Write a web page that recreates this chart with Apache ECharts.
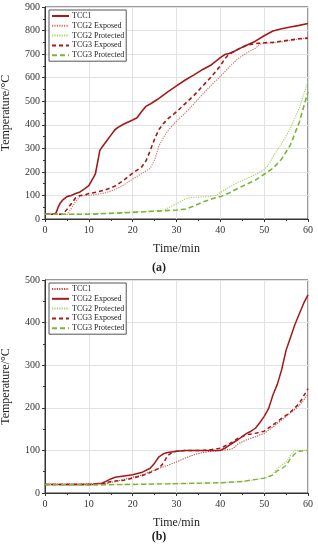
<!DOCTYPE html>
<html><head><meta charset="utf-8">
<script src="https://cdn.jsdelivr.net/npm/echarts@6/dist/echarts.min.js"></script>
<style>html,body{margin:0;padding:0;background:#fff}#c{width:318px;height:550px}</style>
</head><body><div id="c"></div>
<script>
// Chart (a) data: [time(min), temperature(°C)]
const aTCC1 = [[0,20],[2,20],[2.5,25],[3,50],[3.5,68],[4,80],[5,95],[6,100],[7,108],[8,115],[9,128],[10,142],[11,175],[11.5,192],[12,240],[12.5,290],[13,305],[14,330],[15,355],[16,380],[17,393],[18,403],[19,412],[20,420],[21,430],[22,455],[23,478],[24,488],[25,500],[26,512],[28,540],[30,565],[32,590],[34,612],[36,635],[38,655],[39,670],[40,685],[41,698],[42,703],[43,710],[44,720],[46,738],[48,755],[50,778],[52,798],[54,808],[56,815],[58,822],[60,830]];
const aTCG2Exp = [[0,20],[5.2,20],[6,45],[7,75],[8,95],[9,100],[10,100],[12,105],[14,112],[16,125],[18,145],[20,170],[22,192],[24,215],[25,250],[26,310],[27,345],[28,375],[30,415],[32,450],[34,490],[36,530],[38,570],[40,605],[42,645],[44,680],[46,705],[48,725],[49,742],[50,745],[52,748],[54,752],[56,758],[58,765],[60,768]];
const aTCG2Pro = [[0,20],[5,20],[10,22],[15,25],[20,30],[25,35],[27,38],[29,55],[31,75],[32,85],[33,90],[35,93],[37,95],[39,100],[40,112],[42,135],[44,155],[46,172],[48,188],[50,210],[51,230],[52,265],[54,320],[56,385],[58,470],[60,585]];
const aTCG3Exp = [[0,20],[4,20],[5,40],[6,65],[7,90],[8,100],[9,102],[10,108],[12,115],[14,125],[16,140],[18,165],[20,195],[22,220],[23,245],[24,290],[25,340],[26,380],[27,405],[28,425],[30,455],[32,490],[34,525],[36,565],[38,605],[40,650],[41,680],[42,700],[44,720],[46,738],[48,745],[50,748],[52,750],[54,755],[56,760],[58,765],[60,768]];
const aTCG3Pro = [[0,20],[10,20],[20,28],[25,33],[27,35],[30,38],[32,42],[34,55],[36,72],[38,85],[40,95],[42,110],[44,130],[46,148],[48,165],[50,190],[52,215],[54,255],[56,315],[58,410],[60,540]];
// Chart (b) data
const bTCC1 = [[0,20],[14,22],[16,27],[18,32],[20,37],[22,42],[24,50],[26,58],[28,65],[30,73],[32,82],[34,90],[36,95],[38,98],[40,100],[42,102],[43,105],[44,115],[46,125],[48,132],[50,140],[52,155],[54,172],[56,188],[58,205],[60,232]];
const bTCG2Exp = [[0,20],[11,20],[11.5,22],[13,23],[14,28],[15,33],[16,37],[18,40],[20,43],[22,48],[24,58],[25,70],[26,85],[27,92],[28,95],[30,98],[32,100],[34,100],[36,100],[38,100],[40,100],[41,105],[42,112],[44,125],[46,140],[47,145],[48,152],[49,165],[50,180],[51,198],[52,230],[53,255],[54,290],[55,335],[56,365],[57,395],[58,420],[59,445],[60,465]];
const bTCG2Pro = [[0,20],[10,20],[20,21],[30,22],[40,24],[45,27],[48,31],[50,35],[51,38],[52,45],[53,58],[54,65],[55,72],[56,88],[57,100],[58,100],[60,100]];
const bTCG3Exp = [[0,20],[13,20],[14,25],[16,28],[18,30],[20,35],[22,40],[24,48],[26,58],[27,70],[28,88],[29,95],[30,98],[32,100],[36,100],[38,102],[40,105],[42,115],[44,128],[46,137],[48,140],[50,145],[52,160],[54,175],[56,190],[58,210],[60,245]];
const bTCG3Pro = [[0,20],[10,19],[20,20],[30,22],[40,24],[45,27],[50,35],[52,42],[53,52],[54,57],[55,65],[56,80],[57,92],[58,98],[60,100]];
const names = ['TCC1','TCG2 Exposed','TCG2 Protected','TCG3 Exposed','TCG3 Protected'];
const xTicks = [0,10,20,30,40,50,60];

const DARK='#a31a1a', LIGHT='#d96a6a', GL='#a6d15a', GD='#7db33c';
const font='Liberation Serif';
function ser(name, data, idx, color, type, width){
  return {name, type:'line', data, xAxisIndex:idx, yAxisIndex:idx, symbol:'none', showSymbol:false,
    lineStyle:{color, type, width}, itemStyle:{color}, z:3};
}
function xAx(idx){
  return {type:'value', gridIndex:idx, min:0, max:60, interval:10, name:'Time/min', nameLocation:'middle', nameGap:24,
    nameTextStyle:{fontFamily:font,fontSize:12,color:'#222'},
    axisLine:{lineStyle:{color:'#333'}}, axisTick:{show:true,inside:false,length:3,lineStyle:{color:'#333'}},
    minorTick:{show:true,splitNumber:2,length:2,lineStyle:{color:'#333'}},
    axisLabel:{fontFamily:font,fontSize:10,color:'#333',margin:6,formatter:v=>xTicks.includes(v)?String(v):''},
    splitLine:{show:true,lineStyle:{color:'#e2e2e2',width:1}}};
}
function yAx(idx,max){
  return {type:'value', gridIndex:idx, min:0, max, interval:100, name:'Temperature/°C', nameLocation:'middle', nameGap:33,
    nameTextStyle:{fontFamily:font,fontSize:12,color:'#222'},
    axisLine:{show:true,lineStyle:{color:'#333'}}, axisTick:{show:true,length:3,lineStyle:{color:'#333'}},
    minorTick:{show:true,splitNumber:2,length:2,lineStyle:{color:'#333'}},
    axisLabel:{fontFamily:font,fontSize:10,color:'#333',margin:5},
    splitLine:{show:true,lineStyle:{color:'#e2e2e2',width:1}}};
}
function leg(idx, top){
  return {orient:'vertical', left:49, top, data: names.map(n=> idx? n+' ' : n), formatter:n=>n.trim(),
    itemWidth:17, itemHeight:7, itemGap:1.8, padding:[2,2,2,2], borderColor:'#555', borderWidth:1, backgroundColor:'#fff',
    itemStyle:{opacity:0},
    textStyle:{fontFamily:font,fontSize:8,color:'#222',padding:[0,0,0,-2]}, z:10};
}
const chart = echarts.init(document.getElementById('c'));
chart.setOption({
  animation:false,
  grid:[{left:45,top:7,width:263,height:212,containLabel:false,outerBoundsMode:'none',show:true,borderColor:'#333',borderWidth:1,backgroundColor:'#fff'},
        {left:45,top:280,width:263,height:213,containLabel:false,outerBoundsMode:'none',show:true,borderColor:'#333',borderWidth:1,backgroundColor:'#fff'}],
  xAxis:[xAx(0),xAx(1)],
  yAxis:[yAx(0,900),yAx(1,500)],
  legend:[leg(0,10),leg(1,283)],
  series:[
    ser('TCC1',aTCC1,0,DARK,'solid',1.6),
    ser('TCG2 Exposed',aTCG2Exp,0,LIGHT,[1.2,1.2],1.1),
    ser('TCG2 Protected',aTCG2Pro,0,GL,[1.2,1.2],1.1),
    ser('TCG3 Exposed',aTCG3Exp,0,DARK,[4,3],1.6),
    ser('TCG3 Protected',aTCG3Pro,0,GD,[5,3],1.6),
    ser('TCC1 ',bTCC1,1,'#c94444',[1.2,1.2],1.1),
    ser('TCG2 Exposed ',bTCG2Exp,1,DARK,'solid',1.5),
    ser('TCG2 Protected ',bTCG2Pro,1,GL,[1.2,1.2],1.1),
    ser('TCG3 Exposed ',bTCG3Exp,1,DARK,[4,3],1.5),
    ser('TCG3 Protected ',bTCG3Pro,1,GD,[5,3],1.4)
  ],
  graphic:[
    {type:'text',left:'center',top:262,style:{text:'(a)',fontFamily:font,fontSize:12,fontWeight:'bold',fill:'#222'}},
    {type:'text',left:'center',top:531,style:{text:'(b)',fontFamily:font,fontSize:12,fontWeight:'bold',fill:'#222'}}
  ]
});
</script></body></html>
